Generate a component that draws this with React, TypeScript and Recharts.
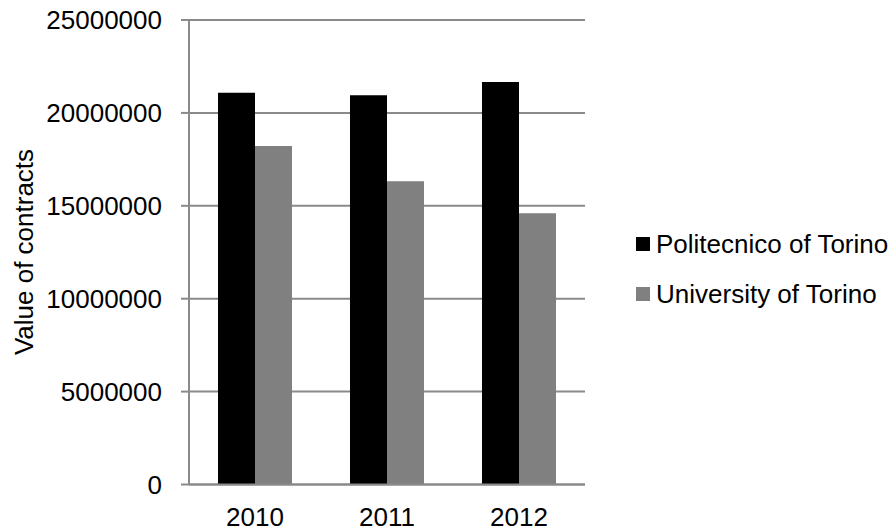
import React from "react";
import { BarChart, Bar, XAxis, YAxis, CartesianGrid } from "recharts";

const years = ["2010", "2011", "2012"];
const politecnico = [21090000, 20950000, 21660000];
const university = [18220000, 16320000, 14600000];
const yTicks = [0, 5000000, 10000000, 15000000, 20000000, 25000000];
const seriesNames = ["Politecnico of Torino", "University of Torino"];
const seriesColors = ["#000000", "#808080"];

const data = years.map((y, i) => ({
  year: y,
  politecnico: politecnico[i],
  university: university[i],
}));

const FONT = "'Liberation Sans', Arial, sans-serif";
const AXIS = "#8a8a8a";

const YLabel = () => (
  <text
    x={24}
    y={252}
    transform="rotate(-90, 24, 252)"
    textAnchor="middle"
    dominantBaseline="central"
    fill="#000"
    fontSize={26}
    fontFamily={FONT}
  >
    Value of contracts
  </text>
);

export default function App() {
  return (
    <div style={{ position: "absolute", left: 0, top: 0, width: 894, height: 532, background: "#fff" }}>
      <BarChart
        width={894}
        height={532}
        data={data}
        margin={{ top: 20, right: 309, bottom: 0, left: 0 }}
        barGap={0}
        barSize={37}
      >
        <CartesianGrid horizontal vertical={false} stroke={AXIS} strokeWidth={2} />
        <XAxis
          dataKey="year"
          height={47.5}
          axisLine={{ stroke: AXIS, strokeWidth: 2 }}
          tickLine={false}
          tickSize={0}
          tickMargin={23}
          tick={{ fill: "#000", fontSize: 26, fontFamily: FONT }}
        />
        <YAxis
          width={189}
          domain={[0, 25000000]}
          ticks={yTicks}
          interval={0}
          axisLine={{ stroke: AXIS, strokeWidth: 2 }}
          tickLine={{ stroke: AXIS, strokeWidth: 2 }}
          tickSize={8}
          tickMargin={19}
          tick={{ fill: "#000", fontSize: 26, fontFamily: FONT }}
          label={<YLabel />}
        />
        <Bar dataKey="politecnico" name={seriesNames[0]} fill={seriesColors[0]} isAnimationActive={false} />
        <Bar dataKey="university" name={seriesNames[1]} fill={seriesColors[1]} isAnimationActive={false} />
      </BarChart>
      <div
        style={{
          position: "absolute",
          left: 636,
          top: 219,
          fontFamily: FONT,
          fontSize: 26,
          color: "#000",
        }}
      >
        {seriesNames.map((n, i) => (
          <div key={n} style={{ display: "flex", alignItems: "center", height: 50 }}>
            <span
              style={{
                display: "inline-block",
                width: 14,
                height: 14,
                background: seriesColors[i],
                marginRight: 6,
              }}
            />
            <span style={{ whiteSpace: "nowrap" }}>{n}</span>
          </div>
        ))}
      </div>
    </div>
  );
}
